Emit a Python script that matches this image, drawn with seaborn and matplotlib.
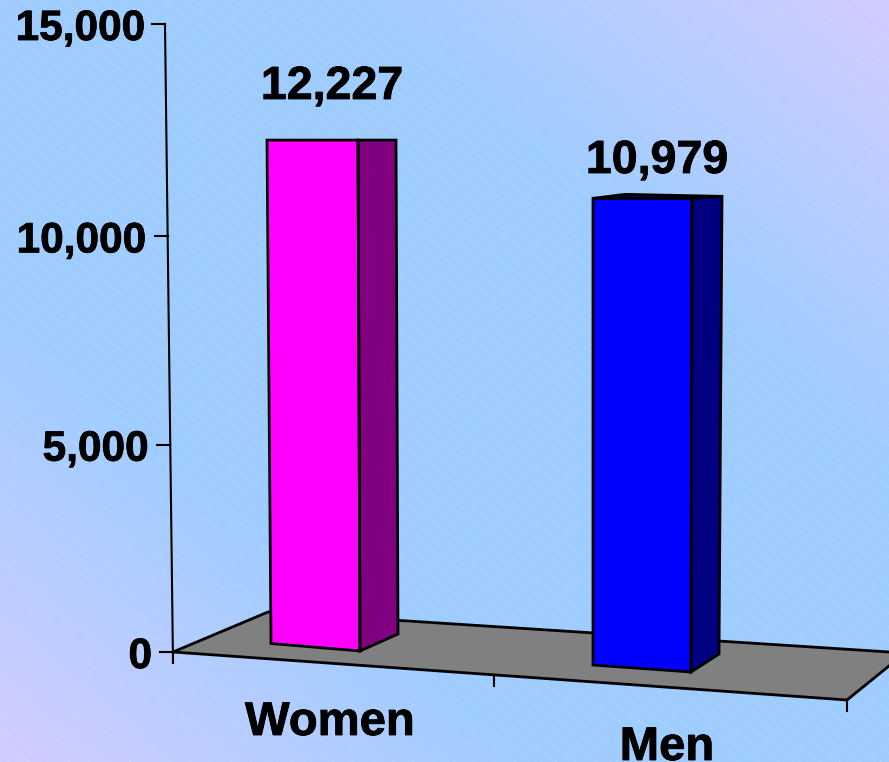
import numpy as np
import matplotlib
matplotlib.use('Agg')
import matplotlib.pyplot as plt
import matplotlib.patheffects as pe
import seaborn as sns
from matplotlib.patches import Polygon
from matplotlib.transforms import blended_transform_factory

# data
categories = ['Women', 'Men']
values = [12227, 10979]
value_labels = ['12,227', '10,979']
tick_values = [0, 5000, 10000, 15000]
tick_labels = ['0', '5,000', '10,000', '15,000']

# colours
front_colors = ['#FF00FF', '#0000FF']
side_colors = ['#800080', '#000080']
floor_color = '#808080'
blue = np.array([0x9F, 0xCC, 0xFF]) / 255
lilac = np.array([0xD2, 0xCC, 0xFF]) / 255

W, H = 889, 762
zero_px = 652          # pixel row of value 0 on the y axis
px_per_unit = 628 / 15000
center_px = 312.5      # pixel column of the first category
step_px = 330          # pixels between categories

plt.rcParams['font.family'] = ['Liberation Sans', 'DejaVu Sans']
plt.rcParams['font.weight'] = 'bold'
heavy = [pe.withStroke(linewidth=0.6, foreground='black')]  # reference type is a bit fatter

fig = plt.figure(figsize=(W / 100, H / 100), dpi=100)

# background layer, in pixels
bg = fig.add_axes([0, 0, 1, 1], zorder=0)
bg.set_xlim(0, W)
bg.set_ylim(H, 0)
bg.set_axis_off()

xx, yy = np.meshgrid(np.linspace(0, 1, W), np.linspace(0, 1, H))
t = np.abs(xx + (1 - yy) - 1)
t = np.clip((t - 0.4) / 0.6, 0, 1)[..., None]
bg.imshow(blue + (lilac - blue) * t, extent=[0, W, H, 0], aspect='auto', zorder=0)

# thin white hatching of the slide background
for c in np.arange(-700, 800, 14):
    bg.plot([0, W], [c, c + 0.69 * W], color='white', lw=0.6, alpha=0.22,
            ls=(0, (4, 1.5)), zorder=1)

# floor of the 3d chart
floor = [(173, 652), (268, 612), (905, 653), (847, 700)]
bg.add_patch(Polygon(floor, closed=True, facecolor=floor_color, edgecolor='black', lw=2, zorder=2))
for x0, y0 in [(173, 652), (494, 675), (847, 700)]:
    bg.plot([x0, x0], [y0, y0 + 11], color='black', lw=1.5, zorder=2)

# main axes, bars come from seaborn
ax = fig.add_axes([0, 0, 1, 1], zorder=1)
ax.patch.set_alpha(0)
sns.barplot(x=categories, y=values, hue=categories, palette=front_colors, saturation=1,
            width=0.28, legend=False, ax=ax)
ax.set_xlim(-center_px / step_px, (W - center_px) / step_px)
ax.set_ylim(-(H - zero_px) / px_per_unit, zero_px / px_per_unit)
ax.set_axis_off()

dx = 1 / step_px       # one pixel in category units
dy = 1 / px_per_unit   # one pixel in value units

# perspective of each bar, in pixels
top_shift = [0, -6]              # front top, against the y axis scale
bar_left = [-45.5, -49.5]        # front top left, from the category centre
bar_right = [45.5, 49.5]
foot_left = [-41.5, -49.5]
foot_right = [47.5, 48.5]
foot_left_y = [-8.5, 13]         # feet, from the zero row
foot_right_y = [-1, 20]
back_dx_top = [38, 30]
back_dx_foot = [38, 28]
back_top_rise = [0, 2]
back_foot_y = [-18, 2]
lid_rise = [0, 4]

bars = [p for p in ax.patches if p.get_height() != 0]
for i, patch in enumerate(bars):
    top = values[i] + top_shift[i] * dy
    tl = (i + bar_left[i] * dx, top)
    tr = (i + bar_right[i] * dx, top)
    br = (i + foot_right[i] * dx, -foot_right_y[i] * dy)
    bl = (i + foot_left[i] * dx, -foot_left_y[i] * dy)
    outline = [tl, tr, br, bl]

    # stretch the seaborn bar to the bounding box and clip it to the skewed front
    xs, ys = zip(*outline)
    patch.set_x(min(xs))
    patch.set_width(max(xs) - min(xs))
    patch.set_y(min(ys))
    patch.set_height(max(ys) - min(ys))
    patch.set_linewidth(0)
    patch.set_clip_path(Polygon(outline, closed=True, transform=ax.transData))

    back_top = (tr[0] + back_dx_top[i] * dx, top + back_top_rise[i] * dy)
    back_foot = (br[0] + back_dx_foot[i] * dx, -back_foot_y[i] * dy)
    ax.add_patch(Polygon([tr, back_top, back_foot, br], closed=True, facecolor=side_colors[i],
                         edgecolor='black', lw=2, zorder=3))
    if lid_rise[i] > 0:
        lid = [tl, (tl[0] + 32 * dx, top + lid_rise[i] * dy), back_top, tr]
        ax.add_patch(Polygon(lid, closed=True, facecolor=side_colors[i], edgecolor='black', lw=2, zorder=3))
    ax.add_patch(Polygon(outline, closed=True, fill=False, edgecolor='black', lw=2, zorder=4))

# tilted y axis, x in pixels and y in values
axis_tr = blended_transform_factory(bg.transData, ax.transData)
px = lambda v: 173 - 8 * v / 15000
ax.plot([px(15000), 173], [15000, -11 * dy], color='black', lw=1.5, transform=axis_tr, clip_on=False)
label_right = [152, 148.5, 146, 145]
tick_nudge = [0, -2, -3, 0]      # perspective squeezes the lower ticks a little
for v, lab, r, n in zip(tick_values, tick_labels, label_right, tick_nudge):
    yv = v + n * dy
    ax.plot([px(v) - 13, px(v)], [yv, yv], color='black', lw=1.5, transform=axis_tr)
    ax.text(r, yv - 5 * dy, lab, transform=axis_tr, ha='right', va='center', fontsize=30.5,
            fontweight='bold', color='black', path_effects=heavy)

# value labels above the bars
label_x = [332, 657]
label_y = [87, 161]
for x0, y0, lab in zip(label_x, label_y, value_labels):
    ax.text(x0, y0, lab, transform=bg.transData, ha='center', va='center', fontsize=33.5,
            fontweight='bold', color='black', path_effects=heavy)

# category labels follow the floor
cat_x = [330, 667]
cat_y = [723, 748]
for x0, y0, lab in zip(cat_x, cat_y, categories):
    ax.text(x0, y0, lab, transform=bg.transData, ha='center', va='center', fontsize=34,
            fontweight='bold', color='black', path_effects=heavy)

fig.savefig('out.png', dpi=100)
